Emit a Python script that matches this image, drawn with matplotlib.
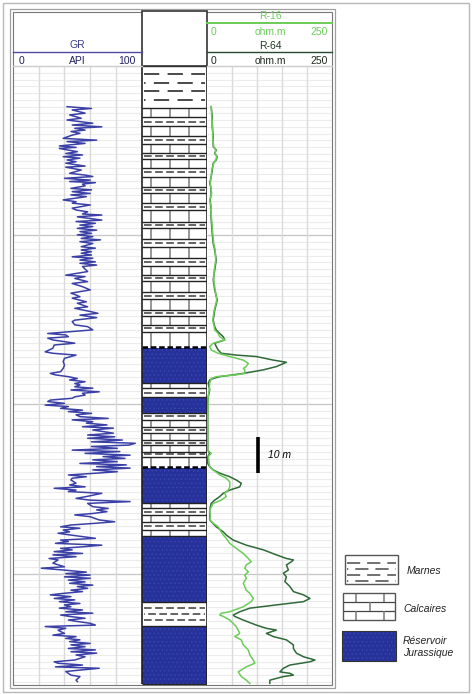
import numpy as np
import matplotlib
matplotlib.use("Agg")
from matplotlib import pyplot as plt
from matplotlib.patches import Rectangle

plt.rcParams['font.family'] = ['Liberation Sans', 'DejaVu Sans']
plt.rcParams['lines.scale_dashes'] = False
plt.rcParams['hatch.linewidth'] = 0.4

W, H = 472, 694
TOP, BOT = 66, 684.5          # pixel rows of the logged interval
PX_PER_M = 3.6
DMAX = (BOT - TOP) / PX_PER_M

GR_COL = '#3a40a6'
R16_COL = '#6ccc58'
R64_COL = '#2f6a38'
RES_FILL = '#26329a'
RES_DOTS = '#3a4bb6'

# ---- GR log (depth in m from top of interval, API) ----
gr_depth = [11.3, 11.8, 12.2, 13.1, 13.6, 14.5, 15.0, 15.9, 16.4, 16.9,
            17.3, 17.8, 18.2, 18.7, 19.2, 20.1, 20.6, 21.0, 21.5, 22.2,
            22.6, 22.9, 23.3, 23.8, 24.3, 24.7, 25.2, 25.6, 26.1, 26.6,
            27.0, 27.8, 28.1, 28.9, 29.8, 30.3, 30.7, 31.2, 31.7, 32.1,
            32.4, 32.8, 33.3, 34.0, 34.4, 34.9, 35.4, 35.8, 36.3, 37.2,
            37.7, 38.1, 38.6, 39.1, 39.5, 40.0, 40.5, 41.1, 41.4, 41.9,
            42.8, 43.2, 43.7, 44.2, 44.6, 45.1, 45.6, 46.0, 46.5, 46.9,
            47.4, 47.9, 48.3, 48.8, 49.3, 50.2, 50.6, 51.1, 51.6, 52.0,
            52.5, 53.0, 53.4, 53.9, 54.4, 54.8, 55.3, 55.7,
            57.1, 58.1, 58.5, 59.0, 59.9, 60.4, 61.3, 62.2, 63.1, 63.6,
            64.1, 64.5, 65.5, 65.9, 66.9, 67.3, 68.2, 68.7, 69.2, 69.9,
            70.6, 71.0, 71.9, 72.4, 73.3, 74.3, 74.7, 75.2, 75.6, 76.1,
            77.0, 77.5, 78.4, 79.4, 79.8, 80.3, 81.2, 82.1, 83.1, 84.0,
            84.9, 85.4, 85.8, 86.3, 86.8, 87.2, 87.7, 88.2, 88.6, 89.1,
            89.5, 90.0, 90.5, 90.9, 91.4, 91.9, 92.3, 92.8, 93.2, 93.7,
            94.2, 94.6, 95.1, 95.6, 96.0, 96.5, 96.9, 97.4, 97.9, 98.3,
            98.8, 99.2, 99.7, 100.2, 100.6, 101.1, 102.0, 102.5, 103.0, 103.4,
            103.9, 104.4, 104.8, 105.3, 105.7, 106.2, 106.7, 107.1, 107.6, 108.1,
            108.5, 109.0, 109.4, 109.9, 110.4, 110.8, 111.3, 111.7,
            112.2, 112.7, 113.1, 113.6, 114.1, 114.5, 115.0, 115.9, 116.4, 116.9,
            117.3, 117.8, 118.2, 118.7, 119.6, 120.1, 120.6, 121.0, 121.5, 122.4,
            122.9, 123.3, 123.8, 124.3, 124.7, 125.2, 126.1, 126.6, 127.0, 127.5,
            128.0, 128.4, 128.9, 129.4, 129.8, 130.3, 131.2, 131.7, 132.1, 132.6,
            133.1, 133.5, 134.0, 134.4, 134.9, 135.4, 135.8, 136.3, 136.8, 137.2,
            138.1, 139.1, 139.5, 140.0, 140.6, 141.0, 141.4, 141.9, 142.3, 142.8,
            143.3, 143.7, 144.2, 144.6, 145.1, 145.6, 146.0, 146.5, 146.9, 147.4,
            147.9, 148.3, 148.8, 149.3, 149.7, 150.2, 150.6, 151.1, 151.6, 152.0,
            152.5, 152.9, 153.4, 153.9, 154.3, 154.8, 155.3, 155.7, 156.2, 156.7,
            157.1, 157.6, 158.1, 158.5, 159.0, 159.4, 159.9, 160.4, 160.8, 161.3,
            161.8, 162.2, 162.7, 163.1, 163.6, 164.1, 165.0, 165.5, 165.9, 166.4,
            166.9, 167.3, 167.8, 168.2, 168.7, 169.2, 169.6, 170.6, 171.0]
gr_api = [42, 61, 46, 56, 44, 53, 42, 62, 46, 69,
          48, 56, 45, 52, 46, 39, 65, 42, 56, 36,
          49, 36, 42, 50, 41, 54, 39, 52, 42, 49,
          41, 56, 41, 53, 44, 56, 62, 40, 60, 44,
          64, 54, 56, 45, 61, 46, 60, 45, 57, 39,
          49, 46, 60, 52, 46, 49, 58, 54, 69, 50,
          69, 49, 64, 52, 62, 50, 65, 52, 61, 50,
          62, 53, 68, 52, 62, 53, 64, 53, 61, 53,
          61, 46, 62, 52, 64, 52, 65, 54,
          58, 41, 56, 48, 58, 46, 54, 60, 45, 49,
          52, 46, 57, 50, 58, 48, 60, 66, 52, 65,
          48, 46, 48, 58, 62, 27, 41, 43, 27, 31,
          48, 32, 31, 25, 31, 49, 40, 39, 40, 39,
          37, 29, 33, 43, 50, 44, 56, 48, 52, 48,
          62, 45, 67, 54, 56, 48, 46, 29, 27, 40,
          25, 43, 37, 54, 43, 61, 49, 52, 74, 46,
          62, 57, 73, 54, 78, 62, 78, 58, 79, 58,
          85, 61, 95, 90, 61, 81, 46, 83, 56, 91,
          70, 87, 62, 81, 52, 88, 65, 91,
          62, 81, 65, 43, 57, 46, 45, 49, 44, 56,
          32, 49, 43, 69, 57, 49, 60, 91, 58, 62,
          74, 65, 73, 62, 48, 60, 67, 79, 65, 45,
          37, 52, 39, 44, 35, 45, 64, 37, 43, 33,
          69, 56, 37, 46, 32, 54, 31, 49, 28, 35,
          31, 40, 22, 39, 57, 41, 60, 40, 60, 43,
          56, 44, 62, 50, 58, 45, 54, 39, 29, 45,
          32, 48, 36, 52, 40, 45, 36, 54, 41, 62,
          37, 44, 56, 43, 50, 60, 64, 25, 41, 35,
          37, 40, 31, 49, 41, 52, 44, 60, 45, 56,
          43, 64, 45, 65, 49, 56, 48, 32, 35, 54,
          33, 67, 52, 41, 43, 45, 52, 49, 50]

# ---- resistivity logs (ohm.m) ----
r64_depth = [11.3, 14.1, 16.9, 19.6, 22.4, 23.3, 24.3, 25.2, 26.1, 27.0,
             28.9, 30.7, 32.6, 33.5, 35.4, 37.2, 39.1, 40.0, 42.8, 46.5,
             49.3, 51.1, 53.9, 56.7, 59.4, 62.2, 65.0, 67.8, 70.6, 72.4,
             73.3, 74.3, 75.2, 76.1, 77.0, 77.9, 78.9, 79.8, 80.3, 80.7,
             81.7, 82.3, 83.5, 84.4, 85.4, 86.3, 86.8, 87.2, 88.1, 90.0,
             91.9, 93.7, 96.5, 101.1, 106.7, 107.6, 108.5, 110.4, 111.3, 112.2,
             113.1, 114.1, 115.0, 115.9, 116.9, 117.8, 118.7, 119.6, 120.6, 121.5,
             123.3, 125.2, 126.1, 128.0, 129.4, 130.3, 131.7, 133.1, 134.4, 135.8,
             136.8, 137.2, 137.7, 138.6, 140.0, 140.9, 141.9, 143.2, 144.6, 146.0,
             146.9, 147.9, 148.8, 149.7, 150.6, 151.6, 152.5, 152.9, 153.9, 155.3,
             156.2, 156.7, 157.6, 158.5, 159.4, 160.8, 161.8, 163.1, 164.1, 165.0,
             165.5, 166.4, 167.3, 168.3, 168.7, 169.2, 169.6, 170.6, 171.5]
r64_ohm = [9, 11, 11, 13, 13, 19, 16, 21, 19, 13,
           11, 9, 6, 8, 9, 7, 8, 8, 9, 11,
           13, 16, 19, 16, 13, 16, 21, 16, 13, 16,
           19, 26, 33, 36, 16, 19, 23, 29, 59, 99,
           133, 159, 139, 113, 73, 26, 13, 6, 3, 6,
           3, 2, 2, 2, 2, 6, 2, 2, 6, 13,
           26, 46, 59, 69, 66, 46, 33, 26, 16, 9,
           6, 6, 6, 19, 33, 39, 53, 79, 113, 139,
           159, 173, 169, 159, 163, 153, 159, 156, 166, 173,
           193, 206, 193, 139, 86, 66, 53, 56, 73, 99,
           119, 139, 119, 133, 159, 173, 173, 179, 193, 216,
           206, 166, 153, 146, 166, 173, 153, 126, 126]

r16_depth = [11.3, 14.1, 16.9, 19.6, 22.4, 23.3, 24.3, 25.2, 26.1, 27.0,
             28.9, 30.7, 32.6, 33.5, 35.4, 37.2, 39.1, 40.0, 42.8, 46.5,
             49.3, 51.1, 53.9, 56.7, 59.4, 62.2, 65.0, 67.8, 70.6, 72.4,
             73.3, 74.3, 75.2, 76.1, 77.0, 77.9, 78.9, 79.8, 80.7, 81.7,
             82.6, 83.5, 84.0, 84.4, 85.4, 85.8, 86.3, 86.8, 88.1, 90.0,
             91.9, 96.5, 101.1, 106.7, 107.6, 108.5, 111.3, 112.2, 113.6, 114.5,
             115.5, 116.9, 117.8, 118.7, 119.6, 120.6, 121.5, 123.3, 125.2, 126.1,
             127.0, 128.0, 129.4, 130.3, 131.2, 132.6, 134.0, 135.4, 136.8, 137.7,
             138.6, 139.5, 140.5, 141.4, 142.3, 143.7, 144.6, 145.6, 146.5, 147.9,
             148.8, 150.2, 151.6, 152.0, 152.5, 152.9, 153.9, 155.7, 157.6, 158.5,
             159.4, 160.8, 162.2, 163.6, 165.0, 165.9, 166.9, 168.3, 169.6, 170.6,
             171.5]
r16_ohm = [9, 10, 12, 12, 14, 18, 17, 20, 18, 14,
           10, 9, 7, 8, 10, 6, 9, 8, 10, 12,
           14, 17, 18, 15, 14, 17, 20, 15, 12, 15,
           16, 23, 26, 36, 13, 6, 9, 23, 46, 73,
           83, 79, 73, 76, 76, 59, 19, 9, 6, 5,
           3, 2, 2, 2, 9, 3, 6, 13, 26, 39,
           46, 46, 43, 36, 39, 29, 13, 6, 7, 6,
           13, 23, 29, 33, 39, 46, 59, 73, 83, 89,
           79, 76, 83, 76, 79, 73, 76, 79, 86, 93,
           89, 73, 46, 29, 26, 33, 46, 59, 66, 56,
           69, 73, 83, 86, 93, 96, 79, 63, 69, 79,
           86]

# ---- lithology column ----
lith_top = [0.0, 11.7, 14.2, 16.7, 19.4, 21.7, 24.2, 25.8, 28.3, 30.8,
            33.6, 35.3, 38.1, 40.0, 43.3, 45.0, 48.1, 50.3, 53.3, 55.6,
            58.1, 59.7, 62.8, 64.7, 67.8, 69.4, 71.9, 73.9, 78.3, 88.1,
            89.5, 91.9, 96.4, 98.3, 100.3, 101.9, 103.9, 105.3, 107.2, 108.6,
            111.7, 121.4, 122.8, 124.7, 126.7, 128.9, 130.6, 148.9, 155.6]
lith_type = ['M', 'C', 'M', 'C', 'M', 'C', 'M', 'C', 'M', 'C',
             'M', 'C', 'M', 'C', 'M', 'C', 'M', 'C', 'M', 'C',
             'M', 'C', 'M', 'C', 'M', 'C', 'M', 'C', 'R', 'C',
             'M', 'R', 'M', 'C', 'M', 'C', 'M', 'C', 'M', 'C',
             'R', 'C', 'M', 'C', 'M', 'C', 'R', 'M', 'R']
lith_base = 171.7
dashed_contacts = [78.3, 111.7]

legend_labels = ['Marnes', 'Calcaires', 'Réservoir\nJurassique']

scale_top, scale_len = 103.0, 10


def marne(ax, x0, x1, top, base, rows, dash, lw=1.2):
    ax.add_patch(Rectangle((x0, top), x1 - x0, base - top, fc='white', ec='none', zorder=1))
    pad = (x1 - x0) * 0.03
    for i, r in enumerate(rows):
        off = 0 if i % 2 == 0 else dash[0] * 0.9
        ax.hlines(r, x0 + pad, x1 - pad, colors='#4a4a4a', lw=lw,
                  linestyles=[(off, dash)], zorder=2)


def calc(ax, x0, x1, top, base, nrows, pos_a, pos_b):
    ax.add_patch(Rectangle((x0, top), x1 - x0, base - top, fc='white', ec='none', zorder=1))
    edges = np.linspace(top, base, nrows + 1)
    if nrows > 1:
        ax.hlines(edges[1:-1], x0, x1, colors='#444444', lw=0.9, zorder=2)
    for i in range(nrows):
        pos = pos_a if i % 2 == 0 else pos_b
        ax.vlines([x0 + (x1 - x0) * p for p in pos], edges[i], edges[i + 1],
                  colors='#7a7a7a', lw=1.1, zorder=2)


def reservoir(ax, x0, x1, top, base):
    ax.add_patch(Rectangle((x0, top), x1 - x0, base - top, fc=RES_FILL, ec='none', zorder=1))
    ax.add_patch(Rectangle((x0, top), x1 - x0, base - top, fill=False, hatch='....',
                           ec=RES_DOTS, lw=0, zorder=1.5))


fig = plt.figure(figsize=(W / 100, H / 100), dpi=100)


def track(x0, x1, xmax):
    ax = fig.add_axes([x0 / W, 1 - BOT / H, (x1 - x0) / W, (BOT - TOP) / H])
    ax.set_xlim(0, xmax)
    ax.set_ylim(DMAX, 0)
    for s in ax.spines.values():
        s.set_visible(False)
    ax.set_xticks([])
    ax.set_yticks([])
    return ax


grid_minor = np.arange(0, DMAX, 47 / 25)
grid_major = np.arange(47, DMAX, 47)


def draw_grid(ax, xs):
    x0, x1 = ax.get_xlim()
    ax.hlines(grid_minor, x0, x1, colors='#ececec', lw=0.8, zorder=0)
    ax.hlines(grid_major, x0, x1, colors='#c6c6c6', lw=0.9, zorder=0)
    ax.vlines(xs, 0, DMAX, colors='#dadada', lw=1.0, zorder=0)


# GR track
ax_gr = track(13, 141.7, 100)
draw_grid(ax_gr, [20, 40, 60, 80])
ax_gr.plot(gr_api, gr_depth, color=GR_COL, lw=1.1, zorder=3)

# lithology track
ax_li = track(141.7, 206.7, 1)
bases = lith_top[1:] + [lith_base]
for t, b, k in zip(lith_top, bases, lith_type):
    thk = b - t
    if k == 'M':
        if thk > 8:
            n, dash, lw = int(thk / 2.6), (11, 6), 1.4
        else:
            n, dash, lw = max(1, round(thk / 2.2)), (5.5, 2.5), 1.2
        marne(ax_li, 0, 1, t, b, [t + thk * (j + 1) / (n + 1) for j in range(n)], dash, lw)
    elif k == 'C':
        calc(ax_li, 0, 1, t, b, max(1, round(thk / 3.2)), [0.14, 0.43, 0.72], [0.15, 0.5, 0.86])
    else:
        reservoir(ax_li, 0, 1, t, b)
for t in lith_top + [lith_base]:
    if t in dashed_contacts:
        ax_li.hlines(t - 0.25, 0, 1, colors='k', lw=1.8, linestyles=[(0, (4, 2))], zorder=4)
    else:
        ax_li.hlines(t, 0, 1, colors='#222222', lw=1.0, zorder=4)
ax_li.vlines([0, 1], 0, lith_base, colors='#222222', lw=1.2, zorder=4, clip_on=False)

# resistivity track
ax_rs = track(206.7, 332, 250)
draw_grid(ax_rs, [50, 100, 150, 200])
ax_rs.plot(r64_ohm, r64_depth, color=R64_COL, lw=1.1, zorder=3)
ax_rs.plot(r16_ohm, r16_depth, color=R16_COL, lw=1.1, zorder=3)
ax_rs.vlines(102, scale_top, scale_top + scale_len, colors='k', lw=2.6, zorder=4)
ax_rs.text(122, scale_top + scale_len / 2, '10 m', style='italic', fontsize=7.5,
           va='center', ha='left', zorder=4)

# overlay for frames, headers and legend (pixel coordinates)
ov = fig.add_axes([0, 0, 1, 1])
ov.set_xlim(0, W)
ov.set_ylim(H, 0)
ov.axis('off')
ov.set_zorder(5)
ov.patch.set_alpha(0)

ov.add_patch(Rectangle((3, 3), 466, 689, fill=False, ec='#b8b8b8', lw=1.0))
ov.add_patch(Rectangle((10, 9), 325, 679, fill=False, ec='#a0a0a0', lw=0.9))
ov.add_patch(Rectangle((13, 12), 319, 673, fill=False, ec='#777777', lw=0.8))
ov.add_patch(Rectangle((141.7, 11), 65, 55, fc='white', ec='#333333', lw=1.2))

# GR header
ov.text(77, 45, 'GR', ha='center', va='center', fontsize=7.5, color='#3c3c8c')
ov.plot([13, 141.7], [52, 52], color='#4a4aa0', lw=1.0)
for x, s, ha in [(19, '0', 'left'), (77, 'API', 'center'), (136, '100', 'right')]:
    ov.text(x, 60.5, s, ha=ha, va='center', fontsize=7.5, color='#202060')
ov.plot([13, 141.7], [66, 66], color='#cccccc', lw=1.0)

# resistivity header
ov.text(270, 16, 'R-16', ha='center', va='center', fontsize=7.5, color=R16_COL)
ov.plot([206.7, 332], [23.3, 23.3], color=R16_COL, lw=1.4)
ov.text(270, 46, 'R-64', ha='center', va='center', fontsize=7.5, color='#1f3a22')
ov.plot([206.7, 332], [52.3, 52.3], color='#2a4a2e', lw=1.0)
for y, c in [(31.7, R16_COL), (60.5, '#1f2a1f')]:
    for x, s, ha in [(211, '0', 'left'), (270, 'ohm.m', 'center'), (328, '250', 'right')]:
        ov.text(x, y, s, ha=ha, va='center', fontsize=7.5, color=c)
ov.plot([206.7, 332], [66, 66], color='#cccccc', lw=1.0)

# legend
marne(ov, 345, 398, 555, 584, [563, 569, 575, 581], (9.5, 5), lw=1.1)
ov.add_patch(Rectangle((345, 555), 53, 29, fill=False, ec='#555555', lw=1.0, zorder=3))
calc(ov, 343, 395, 593, 620, 3, [0.25, 0.78], [0.52])
ov.add_patch(Rectangle((343, 593), 52, 27, fill=False, ec='#555555', lw=1.0, zorder=3))
reservoir(ov, 342, 396, 631, 661)
ov.add_patch(Rectangle((342, 631), 54, 30, fill=False, ec='#333333', lw=0.8, zorder=3))
for (x, y), s in zip([(407, 571), (403, 609), (403, 647)], legend_labels):
    ov.text(x, y, s, style='italic', fontsize=7.5, va='center', ha='left',
            linespacing=1.35, color='#222222')

fig.savefig('out.png', dpi=100)
